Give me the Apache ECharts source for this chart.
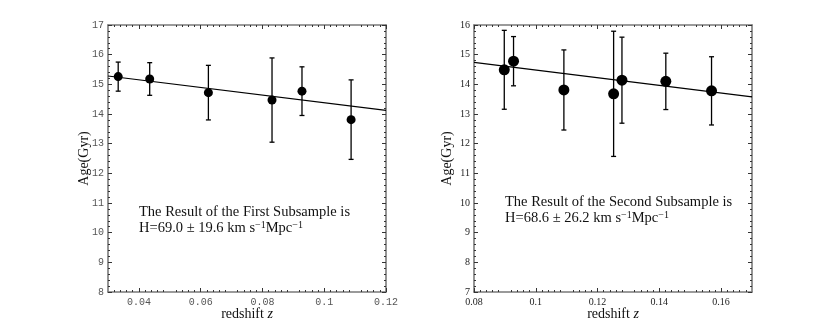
<!DOCTYPE html>
<html>
<head>
<meta charset="utf-8">
<script src="https://cdn.jsdelivr.net/npm/echarts@6/dist/echarts.min.js"></script>
<style>
  html, body { margin: 0; padding: 0; background: #fff; }
  #main { width: 830px; height: 330px; }
</style>
</head>
<body>
<div id="main"></div>
<script>
// first subsample
var z1 = [0.0333, 0.0435, 0.0625, 0.0831, 0.0928, 0.1087];
var age1 = [15.26, 15.18, 14.72, 14.47, 14.77, 13.81];
var err1 = [0.49, 0.55, 0.92, 1.42, 0.82, 1.34];
var fit1 = [[0.03, 15.28], [0.12, 14.12]];

// second subsample
var z2 = [0.0898, 0.0928, 0.1091, 0.1252, 0.1279, 0.1421, 0.1569];
var age2 = [14.49, 14.78, 13.81, 13.68, 14.14, 14.10, 13.78];
var err2 = [1.33, 0.83, 1.35, 2.11, 1.45, 0.95, 1.15];
var fit2 = [[0.08, 14.74], [0.17, 13.58]];

var xTicks1 = [0.04, 0.06, 0.08, 0.1, 0.12];
var xTicks2 = [0.08, 0.1, 0.12, 0.14, 0.16];

var serif = '"Liberation Serif", "DejaVu Serif", serif';
var mono = '"Liberation Mono", "DejaVu Sans Mono", monospace';
var axisGray = '#7a7a7a';

var myChart = echarts.init(document.getElementById('main'));

function pts(z, a) {
    return z.map(function (v, i) { return [v, a[i]]; });
}
function bars(z, a, e) {
    return z.map(function (v, i) { return [v, a[i] - e[i], a[i] + e[i]]; });
}
function errBar(params, api) {
    var top = api.coord([api.value(0), api.value(2)]);
    var bot = api.coord([api.value(0), api.value(1)]);
    var w = 2.5;
    var st = { stroke: '#000', lineWidth: 1.3 };
    return {
        type: 'group',
        children: [
            { type: 'line', shape: { x1: top[0], y1: top[1], x2: bot[0], y2: bot[1] }, style: st },
            { type: 'line', shape: { x1: top[0] - w, y1: top[1], x2: top[0] + w, y2: top[1] }, style: st },
            { type: 'line', shape: { x1: bot[0] - w, y1: bot[1], x2: bot[0] + w, y2: bot[1] }, style: st }
        ]
    };
}

// interval 0.01 keeps min a multiple of it; majors and labels come from the tick lists
function xAx(grid, min, max, ticks, font, color, mirror) {
    return {
        type: 'value', gridIndex: grid, min: min, max: max, interval: 0.01,
        position: mirror ? 'top' : 'bottom',
        name: mirror ? '' : 'redshift {i|z}',
        nameLocation: 'middle', nameGap: 15, nameMoveOverlap: false,
        nameTextStyle: {
            fontFamily: serif, fontSize: 14, color: '#111',
            rich: { i: { fontFamily: serif, fontStyle: 'italic', fontSize: 14, color: '#111' } }
        },
        axisLine: { show: true, onZero: false, lineStyle: { color: axisGray, width: 1.6 } },
        axisTick: { show: true, inside: true, length: 4, customValues: ticks, lineStyle: { color: '#333' } },
        minorTick: { show: true, splitNumber: 5, length: 2, lineStyle: { color: '#333' } },
        splitLine: { show: false },
        axisLabel: {
            show: !mirror, fontFamily: font, fontSize: 10, color: color, margin: 5,
            customValues: ticks,
            formatter: function (v) { return String(Math.round(v * 1000) / 1000); }
        }
    };
}
function yAx(grid, min, max, font, color, mirror, gap) {
    return {
        type: 'value', gridIndex: grid, min: min, max: max, interval: 1,
        position: mirror ? 'right' : 'left',
        name: mirror ? '' : 'Age(Gyr)',
        nameLocation: 'middle', nameGap: gap, nameMoveOverlap: false,
        nameTextStyle: { fontFamily: serif, fontSize: 14, color: '#111' },
        axisLine: { show: true, onZero: false, lineStyle: { color: axisGray, width: 1.6 } },
        axisTick: { show: true, inside: true, length: 4, lineStyle: { color: '#333' } },
        minorTick: { show: true, splitNumber: 5, length: 2, lineStyle: { color: '#333' } },
        splitLine: { show: false },
        axisLabel: { show: !mirror, fontFamily: font, fontSize: 10, color: color, margin: 4 }
    };
}

var noteStyle = {
    font: '14.5px ' + serif, fill: '#111', lineHeight: 16,
    rich: { s: { fontSize: 10, fontFamily: serif, verticalAlign: 'top', lineHeight: 16 } }
};

var option = {
    animation: false,
    grid: [
        { left: 108, right: 444, top: 25, bottom: 38 },
        { left: 474, right: 78, top: 25, bottom: 38 }
    ],
    xAxis: [
        xAx(0, 0.03, 0.12, xTicks1, mono, '#555', false),
        xAx(0, 0.03, 0.12, xTicks1, mono, '#555', true),
        xAx(1, 0.08, 0.17, xTicks2, serif, '#222', false),
        xAx(1, 0.08, 0.17, xTicks2, serif, '#222', true)
    ],
    yAxis: [
        yAx(0, 8, 17, mono, '#555', false, 17),
        yAx(0, 8, 17, mono, '#555', true, 0),
        yAx(1, 7, 16, serif, '#222', false, 20),
        yAx(1, 7, 16, serif, '#222', true, 0)
    ],
    graphic: [
        {
            type: 'text', left: 139, top: 204,
            style: Object.assign({
                text: 'The Result of the First Subsample is\nH=69.0 ± 19.6 km s{s|−1}Mpc{s|−1}'
            }, noteStyle)
        },
        {
            type: 'text', left: 505, top: 194,
            style: Object.assign({
                text: 'The Result of the Second Subsample is\nH=68.6 ± 26.2 km s{s|−1}Mpc{s|−1}'
            }, noteStyle)
        }
    ],
    series: [
        {
            type: 'line', xAxisIndex: 0, yAxisIndex: 0, data: fit1, symbol: 'none',
            lineStyle: { color: '#000', width: 1.2 }
        },
        {
            type: 'custom', xAxisIndex: 0, yAxisIndex: 0, data: bars(z1, age1, err1),
            renderItem: errBar
        },
        {
            type: 'scatter', xAxisIndex: 0, yAxisIndex: 0, data: pts(z1, age1),
            symbolSize: 9, itemStyle: { color: '#000', opacity: 1 }
        },
        {
            type: 'line', xAxisIndex: 2, yAxisIndex: 2, data: fit2, symbol: 'none',
            lineStyle: { color: '#000', width: 1.2 }
        },
        {
            type: 'custom', xAxisIndex: 2, yAxisIndex: 2, data: bars(z2, age2, err2),
            renderItem: errBar
        },
        {
            type: 'scatter', xAxisIndex: 2, yAxisIndex: 2, data: pts(z2, age2),
            symbolSize: 11, itemStyle: { color: '#000', opacity: 1 }
        }
    ]
};

myChart.setOption(option);
</script>
</body>
</html>
